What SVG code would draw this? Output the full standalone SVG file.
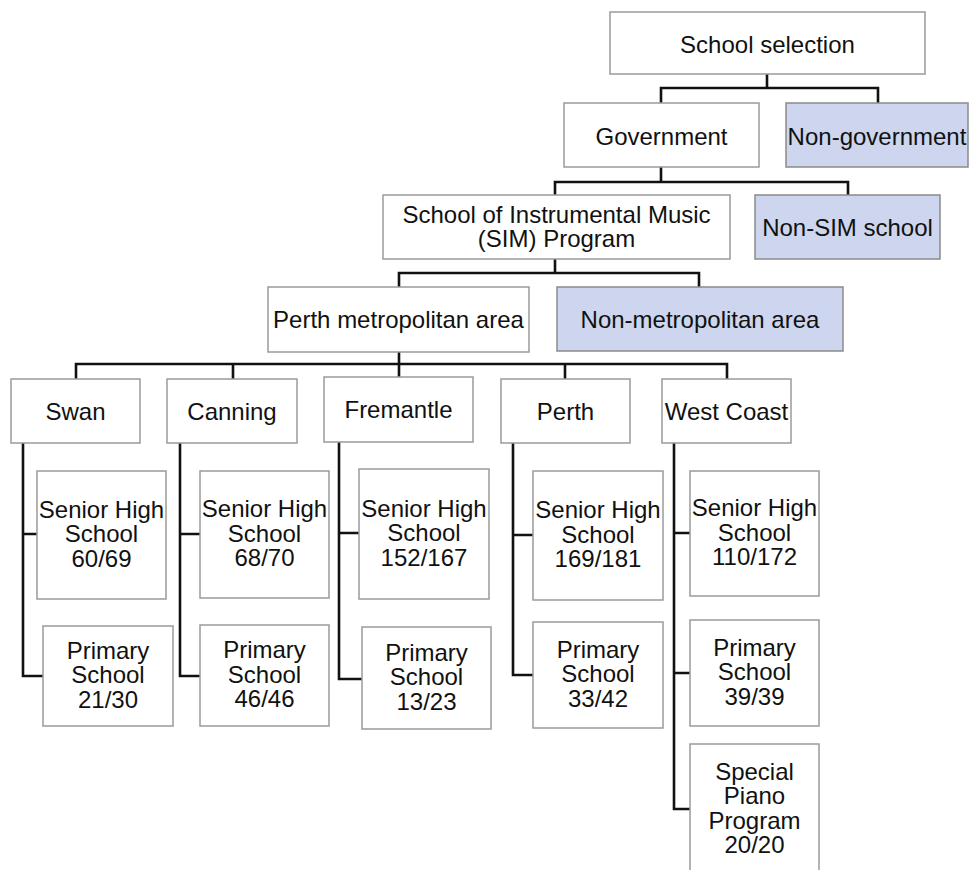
<svg xmlns="http://www.w3.org/2000/svg" width="969" height="870" viewBox="0 0 969 870">
<style>
.b{fill:#ffffff;stroke:#9a9a9a;stroke-width:1.5}
.n{fill:#cdd6ee;stroke:#8a8a8a;stroke-width:1.5}
text{font-family:"Liberation Sans",Arial,Helvetica,sans-serif;font-size:24px;fill:#111;text-anchor:middle}
.c path{fill:none;stroke:#111;stroke-width:2.6}
</style>
<rect width="969" height="870" fill="#ffffff"/>
<g class="c" id="connectors">
<path d="M767 74V88M661 103V88H878V103"/>
<path d="M661 167V182M555 195V182H848V195"/>
<path d="M555 259V273M399 287V273H699V287"/>
<path d="M399 352V364M76 379V364H727V379M233 364V379M399 364V377M565 364V379"/>
<path d="M23 443V676H43M23 534H37"/>
<path d="M180 443V676H200M180 534H200"/>
<path d="M339 442V679H362M339 533H359"/>
<path d="M513 443V675H533M513 535H533"/>
<path d="M674 443V809H690M674 533H690M674 673H690"/>
</g>
<g id="school-selection"><rect class="b" x="610" y="12" width="315" height="62"/><text x="767.5" y="52.5">School selection</text></g>
<g id="government"><rect class="b" x="564" y="103" width="195" height="64"/><text x="661.5" y="144.5">Government</text></g>
<g id="non-government"><rect class="n" x="786" y="103" width="182" height="64"/><text x="877" y="144.5">Non-government</text></g>
<g id="sim"><rect class="b" x="383" y="195" width="347" height="64"/><text x="556.5" y="222.5">School of Instrumental Music</text><text x="556.5" y="247">(SIM) Program</text></g>
<g id="non-sim"><rect class="n" x="755" y="195" width="185" height="64"/><text x="847.5" y="235.5">Non-SIM school</text></g>
<g id="perth-metro"><rect class="b" x="268" y="287" width="261" height="65"/><text x="398.5" y="328">Perth metropolitan area</text></g>
<g id="non-metro"><rect class="n" x="557" y="287" width="286" height="64"/><text x="700" y="327.5">Non-metropolitan area</text></g>
<g id="swan"><rect class="b" x="11" y="379" width="129" height="64"/><text x="75.5" y="419.5">Swan</text></g>
<g id="canning"><rect class="b" x="167" y="379" width="130" height="64"/><text x="232" y="419.5">Canning</text></g>
<g id="fremantle"><rect class="b" x="324" y="377" width="149" height="65"/><text x="398.5" y="417.5">Fremantle</text></g>
<g id="perth"><rect class="b" x="501" y="379" width="129" height="64"/><text x="565.5" y="419.5">Perth</text></g>
<g id="west-coast"><rect class="b" x="662" y="379" width="129" height="64"/><text x="726.5" y="419.5">West Coast</text></g>
<g id="swan-shs"><rect class="b" x="37" y="471" width="129" height="128"/><text x="101.5" y="517.5">Senior High</text><text x="101.5" y="542">School</text><text x="101.5" y="566.5">60/69</text></g>
<g id="swan-ps"><rect class="b" x="43" y="626" width="130" height="100"/><text x="108" y="658.5">Primary</text><text x="108" y="683">School</text><text x="108" y="707.5">21/30</text></g>
<g id="canning-shs"><rect class="b" x="200" y="471" width="129" height="127"/><text x="264.5" y="517">Senior High</text><text x="264.5" y="541.5">School</text><text x="264.5" y="566">68/70</text></g>
<g id="canning-ps"><rect class="b" x="200" y="625" width="129" height="101"/><text x="264.5" y="658">Primary</text><text x="264.5" y="682.5">School</text><text x="264.5" y="707">46/46</text></g>
<g id="fremantle-shs"><rect class="b" x="359" y="469" width="130" height="130"/><text x="424" y="516.5">Senior High</text><text x="424" y="541">School</text><text x="424" y="565.5">152/167</text></g>
<g id="fremantle-ps"><rect class="b" x="362" y="627" width="129" height="102"/><text x="426.5" y="660.5">Primary</text><text x="426.5" y="685">School</text><text x="426.5" y="709.5">13/23</text></g>
<g id="perth-shs"><rect class="b" x="533" y="471" width="130" height="129"/><text x="598" y="518">Senior High</text><text x="598" y="542.5">School</text><text x="598" y="567">169/181</text></g>
<g id="perth-ps"><rect class="b" x="533" y="622" width="130" height="106"/><text x="598" y="657.5">Primary</text><text x="598" y="682">School</text><text x="598" y="706.5">33/42</text></g>
<g id="wc-shs"><rect class="b" x="690" y="471" width="129" height="125"/><text x="754.5" y="516">Senior High</text><text x="754.5" y="540.5">School</text><text x="754.5" y="565">110/172</text></g>
<g id="wc-ps"><rect class="b" x="690" y="620" width="129" height="106"/><text x="754.5" y="655.5">Primary</text><text x="754.5" y="680">School</text><text x="754.5" y="704.5">39/39</text></g>
<g id="wc-special"><rect class="b" x="690" y="744" width="129" height="131"/><text x="754.5" y="779.5">Special</text><text x="754.5" y="804">Piano</text><text x="754.5" y="828.5">Program</text><text x="754.5" y="853">20/20</text></g>
</svg>
